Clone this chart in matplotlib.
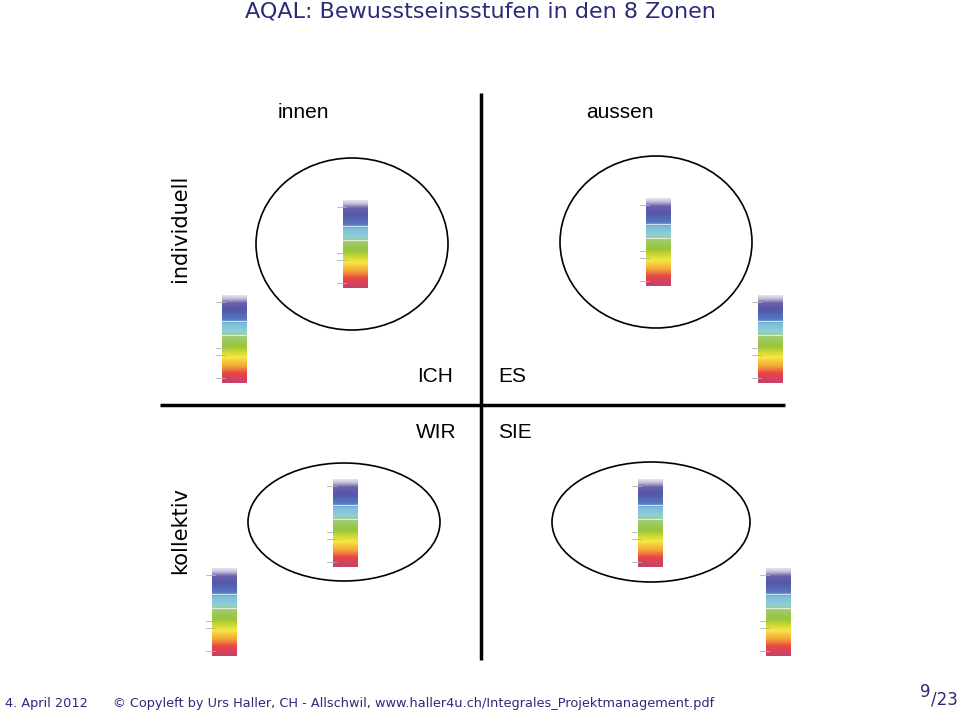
import matplotlib
matplotlib.use('Agg')
import matplotlib.pyplot as plt
import numpy as np
from matplotlib.patches import Ellipse
from matplotlib.colors import LinearSegmentedColormap

# Text content
title = 'AQAL: Bewusstseinsstufen in den 8 Zonen'
column_labels = ['innen', 'aussen']
row_labels = ['individuell', 'kollektiv']
quadrant_labels = ['ICH', 'ES', 'WIR', 'SIE']
footer_date = '4. April 2012'
footer_text = '\u00a9 Copyleft by Urs Haller, CH - Allschwil, www.haller4u.ch/Integrales_Projektmanagement.pdf'
page_no = '9'
page_total = '/23'

# Spectrum of consciousness levels (top -> bottom)
spectrum_stops = [0.0, 0.04, 0.09, 0.17, 0.27, 0.33, 0.42, 0.47, 0.58, 0.64, 0.71, 0.81, 0.89, 1.0]
spectrum_colors = ['#e6e2ee', '#c4c0da', '#6a60aa', '#5458a8', '#5476c0', '#7cc0dc',
                   '#90d0d4', '#a0cc70', '#98c43c', '#c8d630', '#f6e646', '#f4a436',
                   '#e84646', '#c4406e']
separator_levels = [0.29, 0.45]
tick_levels = [0.08, 0.60, 0.68, 0.94]

# Layout (pixels)
ellipses = [(352, 244, 192, 172), (656, 242, 192, 172), (344, 522, 192, 118), (651, 522, 198, 120)]
bars = [(343, 200), (646, 198), (222, 295), (758, 295), (333, 479), (638, 479), (212, 568), (766, 568)]
bar_w, bar_h = 25, 88

navy = '#2b2b7a'

fig = plt.figure(figsize=(9.6, 7.16), dpi=100)
ax = fig.add_axes([0, 0, 1, 1])
ax.set_xlim(0, 960)
ax.set_ylim(716, 0)
ax.axis('off')

# Title
ax.text(480, 12, title, ha='center', va='center', fontsize=16, color=navy, family='DejaVu Sans')

# Cross
ax.plot([481, 481], [93, 660], color='black', lw=2.5, solid_capstyle='butt')
ax.plot([160, 785], [405, 405], color='black', lw=2.5, solid_capstyle='butt')

# Labels
lab = dict(fontsize=15, family='Liberation Sans', color='black')
ax.text(303, 112, column_labels[0], ha='center', va='center', **lab)
ax.text(620, 112, column_labels[1], ha='center', va='center', **lab)
ax.text(180, 228, row_labels[0], ha='center', va='center', rotation=90, fontsize=15, family='DejaVu Sans')
ax.text(180, 530, row_labels[1], ha='center', va='center', rotation=90, fontsize=15, family='DejaVu Sans')
ax.text(453, 376, quadrant_labels[0], ha='right', va='center', **lab)
ax.text(498, 376, quadrant_labels[1], ha='left', va='center', **lab)
ax.text(457, 433, quadrant_labels[2], ha='right', va='center', **lab)
ax.text(498, 433, quadrant_labels[3], ha='left', va='center', **lab)

# Ellipses
for cx, cy, w, h in ellipses:
    ax.add_patch(Ellipse((cx, cy), w, h, fill=False, ec='black', lw=1.2))

# Spectrum bars
cmap = LinearSegmentedColormap.from_list('spec', list(zip(spectrum_stops, spectrum_colors)))
grad = np.linspace(0, 1, 256).reshape(-1, 1)
for x0, y0 in bars:
    ax.imshow(grad, cmap=cmap, aspect='auto', extent=(x0, x0 + bar_w, y0 + bar_h, y0),
              interpolation='bilinear', zorder=2)
    for s in separator_levels:
        y = y0 + s * bar_h
        ax.plot([x0, x0 + bar_w], [y, y], color='white', lw=0.8, alpha=0.7, zorder=3)
    for t in tick_levels:
        y = y0 + t * bar_h
        ax.plot([x0 - 6, x0 + 3], [y, y], color='#b0b0b0', lw=0.6, zorder=3)

# Footer
ft = dict(fontsize=9.3, color=navy, family='DejaVu Sans', va='center')
ax.text(5, 704, footer_date, ha='left', **ft)
ax.text(113, 704, footer_text, ha='left', **ft)
ax.text(925, 692, page_no, ha='center', fontsize=12, color=navy, family='DejaVu Sans', va='center')
ax.text(958, 700, page_total, ha='right', fontsize=12, color=navy, family='DejaVu Sans', va='center')

fig.savefig('out.png', dpi=100)
